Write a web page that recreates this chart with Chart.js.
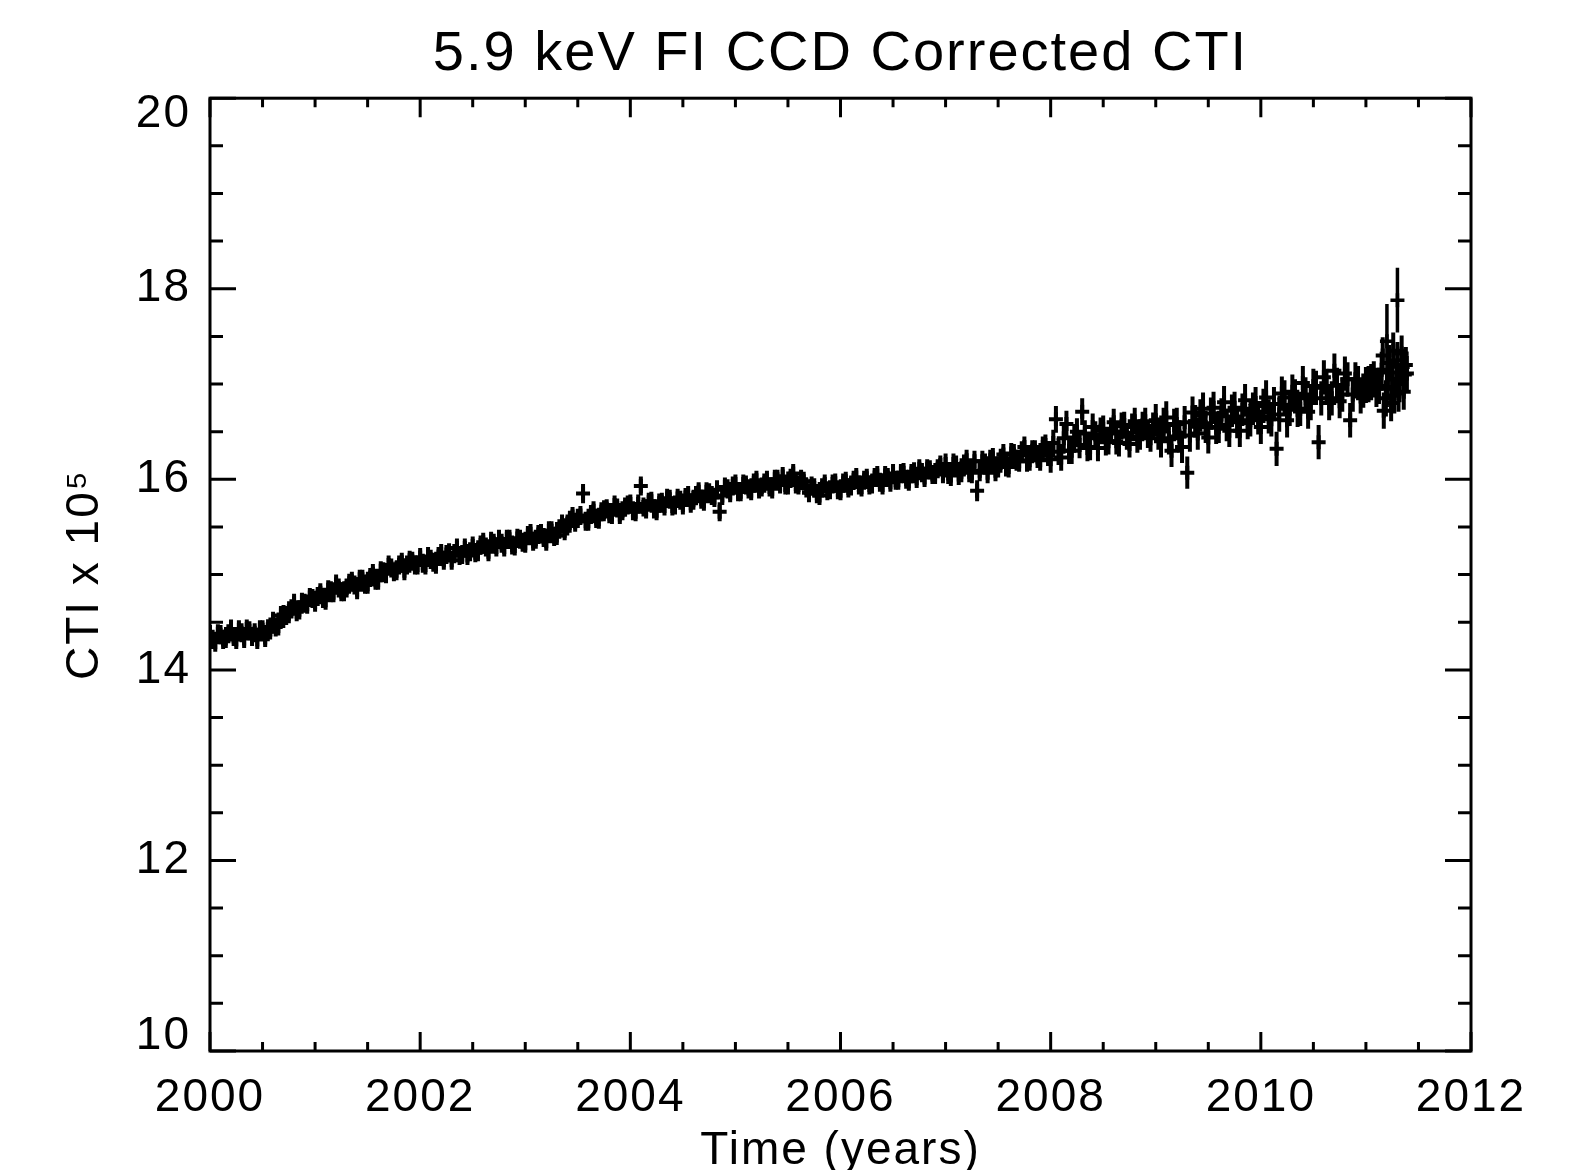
<!DOCTYPE html>
<html>
<head>
<meta charset="utf-8">
<title>5.9 keV FI CCD Corrected CTI</title>
<script src="https://cdn.jsdelivr.net/npm/chart.js@4.4.1/dist/chart.umd.min.js"></script>
<style>
  html, body { margin: 0; padding: 0; background: #fff; }
  #wrap { width: 1574px; height: 1170px; position: relative; }
</style>
</head>
<body>
<div id="wrap"><canvas id="ctiChart"></canvas></div>
<script>
// the measurements are dense, so they are kept in two interleaved runs.
const timesA = [
  2000.00,2000.05,2000.10,2000.15,2000.20,2000.25,2000.30,2000.35,2000.40,2000.45,2000.50,2000.55,2000.60,2000.65,2000.70,2000.75,2000.80,2000.85,2000.90,2000.95,
  2001.00,2001.05,2001.10,2001.15,2001.20,2001.25,2001.30,2001.35,2001.40,2001.45,2001.50,2001.55,2001.60,2001.65,2001.70,2001.75,2001.80,2001.85,2001.90,2001.95,
  2002.00,2002.05,2002.10,2002.15,2002.20,2002.25,2002.30,2002.35,2002.40,2002.45,2002.50,2002.55,2002.60,2002.65,2002.70,2002.75,2002.80,2002.85,2002.90,2002.95,
  2003.00,2003.05,2003.10,2003.15,2003.20,2003.25,2003.30,2003.35,2003.40,2003.45,2003.50,2003.55,2003.60,2003.65,2003.70,2003.75,2003.80,2003.85,2003.90,2003.95,
  2004.00,2004.05,2004.10,2004.15,2004.20,2004.25,2004.30,2004.35,2004.40,2004.45,2004.50,2004.55,2004.60,2004.65,2004.70,2004.75,2004.80,2004.85,2004.90,2004.95,
  2005.00,2005.05,2005.10,2005.15,2005.20,2005.25,2005.30,2005.35,2005.40,2005.45,2005.50,2005.55,2005.60,2005.65,2005.70,2005.75,2005.80,2005.85,2005.90,2005.95,
  2006.00,2006.05,2006.10,2006.15,2006.20,2006.25,2006.30,2006.35,2006.40,2006.45,2006.50,2006.55,2006.60,2006.65,2006.70,2006.75,2006.80,2006.85,2006.90,2006.95,
  2007.00,2007.05,2007.10,2007.15,2007.20,2007.25,2007.30,2007.35,2007.40,2007.45,2007.50,2007.55,2007.60,2007.65,2007.70,2007.75,2007.80,2007.85,2007.90,2007.95,
  2008.00,2008.05,2008.10,2008.15,2008.20,2008.25,2008.30,2008.35,2008.40,2008.45,2008.50,2008.55,2008.60,2008.65,2008.70,2008.75,2008.80,2008.85,2008.90,2008.95,
  2009.00,2009.05,2009.10,2009.15,2009.20,2009.25,2009.30,2009.35,2009.40,2009.45,2009.50,2009.55,2009.60,2009.65,2009.70,2009.75,2009.80,2009.85,2009.90,2009.95,
  2010.00,2010.05,2010.10,2010.15,2010.20,2010.25,2010.30,2010.35,2010.40,2010.45,2010.50,2010.55,2010.60,2010.65,2010.70,2010.75,2010.80,2010.85,2010.90,2010.95,
  2011.00,2011.05,2011.10,2011.15,2011.17,2011.20,2011.22,2011.25,2011.27,2011.30,2011.32,2011.35,2011.37,2011.39
];
const ctiA = [
  14.37,14.29,14.37,14.33,14.43,14.32,14.39,14.43,14.35,14.32,14.42,14.40,14.51,14.46,14.58,14.59,14.70,14.63,14.70,14.76,
  14.71,14.81,14.73,14.83,14.90,14.82,14.86,14.93,14.84,14.95,14.90,15.01,14.94,15.03,15.10,15.03,15.10,15.04,15.15,15.10,
  15.18,15.10,15.16,15.11,15.22,15.21,15.15,15.28,15.21,15.20,15.30,15.24,15.34,15.24,15.33,15.37,15.29,15.37,15.30,15.37,
  15.33,15.43,15.37,15.43,15.35,15.46,15.41,15.53,15.51,15.61,15.59,15.85,15.56,15.67,15.58,15.68,15.64,15.73,15.63,15.71,
  15.74,15.66,15.93,15.69,15.77,15.67,15.76,15.80,15.72,15.80,15.73,15.83,15.78,15.87,15.77,15.86,15.81,15.66,15.92,15.86,
  15.95,15.87,15.94,15.88,15.99,15.92,15.99,15.90,16.00,16.03,15.94,16.06,15.94,15.98,15.86,15.91,15.83,15.95,15.89,15.96,
  15.88,15.98,15.93,16.02,15.92,16.01,15.95,16.04,15.94,16.02,16.06,15.99,16.07,15.98,16.08,16.11,16.02,16.10,16.05,16.15,
  16.16,16.04,16.14,16.08,16.20,16.07,15.88,16.19,16.07,16.22,16.13,16.26,16.13,16.26,16.19,16.34,16.20,16.30,16.20,16.36,
  16.21,16.63,16.23,16.58,16.30,16.50,16.71,16.33,16.55,16.33,16.53,16.40,16.60,16.38,16.57,16.37,16.61,16.45,16.61,16.43,
  16.62,16.40,16.65,16.30,16.58,16.34,16.07,16.70,16.48,16.74,16.44,16.75,16.55,16.81,16.51,16.75,16.51,16.83,16.62,16.80,
  16.55,16.86,16.63,16.32,16.90,16.62,16.92,16.73,17.01,16.71,16.98,16.39,17.07,16.80,17.14,16.82,17.11,16.62,17.05,16.87,
  16.99,17.02,16.95,17.15,16.72,16.95,17.22,17.05,16.88,17.25,17.00,17.18,17.10,17.11
];

const timesB = [
  2000.025,2000.075,2000.125,2000.175,2000.225,2000.275,2000.325,2000.375,2000.425,2000.475,2000.525,2000.575,2000.625,2000.675,2000.725,2000.775,2000.825,2000.875,2000.925,2000.975,
  2001.025,2001.075,2001.125,2001.175,2001.225,2001.275,2001.325,2001.375,2001.425,2001.475,2001.525,2001.575,2001.625,2001.675,2001.725,2001.775,2001.825,2001.875,2001.925,2001.975,
  2002.025,2002.075,2002.125,2002.175,2002.225,2002.275,2002.325,2002.375,2002.425,2002.475,2002.525,2002.575,2002.625,2002.675,2002.725,2002.775,2002.825,2002.875,2002.925,2002.975,
  2003.025,2003.075,2003.125,2003.175,2003.225,2003.275,2003.325,2003.375,2003.425,2003.475,2003.525,2003.575,2003.625,2003.675,2003.725,2003.775,2003.825,2003.875,2003.925,2003.975,
  2004.025,2004.075,2004.125,2004.175,2004.225,2004.275,2004.325,2004.375,2004.425,2004.475,2004.525,2004.575,2004.625,2004.675,2004.725,2004.775,2004.825,2004.875,2004.925,2004.975,
  2005.025,2005.075,2005.125,2005.175,2005.225,2005.275,2005.325,2005.375,2005.425,2005.475,2005.525,2005.575,2005.625,2005.675,2005.725,2005.775,2005.825,2005.875,2005.925,2005.975,
  2006.025,2006.075,2006.125,2006.175,2006.225,2006.275,2006.325,2006.375,2006.425,2006.475,2006.525,2006.575,2006.625,2006.675,2006.725,2006.775,2006.825,2006.875,2006.925,2006.975,
  2007.025,2007.075,2007.125,2007.175,2007.225,2007.275,2007.325,2007.375,2007.425,2007.475,2007.525,2007.575,2007.625,2007.675,2007.725,2007.775,2007.825,2007.875,2007.925,2007.975,
  2008.025,2008.075,2008.125,2008.175,2008.225,2008.275,2008.325,2008.375,2008.425,2008.475,2008.525,2008.575,2008.625,2008.675,2008.725,2008.775,2008.825,2008.875,2008.925,2008.975,
  2009.025,2009.075,2009.125,2009.175,2009.225,2009.275,2009.325,2009.375,2009.425,2009.475,2009.525,2009.575,2009.625,2009.675,2009.725,2009.775,2009.825,2009.875,2009.925,2009.975,
  2010.025,2010.075,2010.125,2010.175,2010.225,2010.275,2010.325,2010.375,2010.425,2010.475,2010.525,2010.575,2010.625,2010.675,2010.725,2010.775,2010.825,2010.875,2010.925,2010.975,
  2011.025,2011.075,2011.125,2011.16,2011.19,2011.21,2011.24,2011.26,2011.29,2011.31,2011.34,2011.36,2011.38
];
const ctiB = [
  14.32,14.38,14.32,14.38,14.35,14.42,14.33,14.41,14.39,14.42,14.34,14.45,14.45,14.57,14.57,14.64,14.61,14.71,14.69,14.75,
  14.77,14.75,14.84,14.81,14.86,14.82,14.91,14.89,14.95,14.90,14.97,14.94,15.04,15.01,15.07,15.04,15.13,15.10,15.14,15.10,
  15.12,15.19,15.13,15.19,15.15,15.23,15.22,15.20,15.28,15.24,15.23,15.31,15.29,15.35,15.29,15.33,15.37,15.31,15.38,15.34,
  15.41,15.35,15.42,15.39,15.46,15.40,15.48,15.46,15.57,15.55,15.62,15.56,15.63,15.59,15.66,15.69,15.63,15.70,15.67,15.73,
  15.67,15.74,15.71,15.76,15.69,15.75,15.72,15.79,15.73,15.78,15.81,15.75,15.83,15.79,15.87,15.83,15.89,15.83,15.90,15.93,
  15.87,15.95,15.90,15.96,15.90,15.96,15.92,16.00,15.95,15.94,16.01,15.95,16.00,15.91,15.93,15.85,15.91,15.88,15.95,15.89,
  15.96,15.91,15.99,15.94,15.99,15.94,16.02,15.97,16.04,15.97,15.99,16.06,16.00,16.06,16.01,16.07,16.11,16.05,16.11,16.06,
  16.06,16.16,16.05,16.15,16.08,16.19,16.09,16.16,16.20,16.09,16.21,16.14,16.27,16.20,16.29,16.19,16.30,16.23,16.34,16.25,
  16.38,16.29,16.43,16.30,16.44,16.36,16.48,16.34,16.47,16.51,16.39,16.51,16.40,16.56,16.45,16.55,16.42,16.57,16.47,16.56,
  16.48,16.58,16.43,16.57,16.45,16.60,16.46,16.61,16.67,16.55,16.69,16.54,16.68,16.57,16.72,16.60,16.73,16.59,16.74,16.64,
  16.77,16.66,16.79,16.68,16.86,16.74,16.87,16.74,16.89,16.80,16.96,16.85,16.98,16.85,16.99,16.89,17.05,16.89,17.01,16.93,
  17.00,17.05,16.98,17.30,16.85,17.12,16.80,17.35,17.05,16.90,17.32,16.92,17.20
];

// typical 1-sigma error per year (2000 .. 2011)
const errByYear = [0.10,0.10,0.10,0.10,0.10,0.10,0.10,0.11,0.14,0.17,0.18,0.19];

// the two high points at the end with long error bars
const spikeYears = [2011.20, 2011.30];
const spikeCti = [17.45, 17.88];
const spikeErr = [0.39, 0.34];

const xTickLabels = [2000, 2002, 2004, 2006, 2008, 2010, 2012];
const yTickLabels = [10, 12, 14, 16, 18, 20];

const FONT = "'Liberation Sans', Arial, Helvetica, sans-serif";

const allTimes = timesA.concat(timesB);
const allCti = ctiA.concat(ctiB);
const allErr = allTimes.map(t => errByYear[Math.floor(t) - 2000]);

// IDL-style frame: box, inward ticks on all four sides, error bars
const idlFrame = {
  id: 'idlFrame',
  beforeDraw(chart) {
    // the IDL font is a bit wider than Helvetica
    chart.ctx.letterSpacing = '2px';
    // end labels of the y axis sit inside the box in the original
    const ys = chart.scales.y;
    ys.getLabelItems().forEach(it => {
      if (it.label === '10') it.options.translation[1] = ys.getPixelForValue(10) - 15;
      if (it.label === '20') it.options.translation[1] = ys.getPixelForValue(20) + 16;
    });
  },
  afterDatasetsDraw(chart) {
    const ctx = chart.ctx;
    const ys = chart.scales.y;
    const a = chart.chartArea;
    ctx.save();
    ctx.beginPath();
    ctx.rect(a.left, a.top, a.right - a.left, a.bottom - a.top);
    ctx.clip();
    ctx.strokeStyle = '#000';
    chart.data.datasets.forEach((ds, i) => {
      const meta = chart.getDatasetMeta(i);
      ctx.lineWidth = ds.pointBorderWidth;
      meta.data.forEach((pt, j) => {
        const v = ds.data[j].y;
        const e = ds.errors[j];
        ctx.beginPath();
        ctx.moveTo(pt.x, ys.getPixelForValue(v + e));
        ctx.lineTo(pt.x, ys.getPixelForValue(v - e));
        ctx.stroke();
      });
    });
    ctx.restore();
  },
  afterDraw(chart) {
    const ctx = chart.ctx;
    const xs = chart.scales.x, ys = chart.scales.y;
    const a = chart.chartArea;
    ctx.save();
    ctx.strokeStyle = '#000';
    ctx.lineWidth = 3;
    ctx.strokeRect(a.left, a.top, a.right - a.left, a.bottom - a.top);
    ctx.beginPath();
    for (let v = xs.min; v <= xs.max + 1e-9; v += 0.5) {
      const px = xs.getPixelForValue(v);
      const len = (Math.round(v * 2) % 4 === 0) ? 19 : 9;
      ctx.moveTo(px, a.bottom); ctx.lineTo(px, a.bottom - len);
      ctx.moveTo(px, a.top); ctx.lineTo(px, a.top + len);
    }
    for (let v = ys.min; v <= ys.max + 1e-9; v += 0.5) {
      const py = ys.getPixelForValue(v);
      const len = (Math.round(v * 2) % 4 === 0) ? 26 : 13;
      ctx.moveTo(a.left, py); ctx.lineTo(a.left + len, py);
      ctx.moveTo(a.right, py); ctx.lineTo(a.right - len, py);
    }
    ctx.stroke();
    ctx.restore();
  }
};

Chart.defaults.color = '#000';
Chart.defaults.font.family = FONT;

new Chart(document.getElementById('ctiChart'), {
  type: 'scatter',
  data: {
    datasets: [
      {
        label: 'CTI',
        data: allTimes.map((t, i) => ({ x: t, y: allCti[i] })),
        errors: allErr,
        pointStyle: 'cross',
        pointRadius: 7,
        pointBorderWidth: 4,
        borderColor: '#000',
        backgroundColor: '#000'
      },
      {
        label: 'CTI high',
        data: spikeYears.map((t, i) => ({ x: t, y: spikeCti[i] })),
        errors: spikeErr,
        pointStyle: 'cross',
        pointRadius: 7,
        pointBorderWidth: 3.5,
        borderColor: '#000',
        backgroundColor: '#000'
      }
    ]
  },
  options: {
    responsive: true,
    maintainAspectRatio: false,
    animation: false,
    events: [],
    layout: { padding: { left: 0, right: 103, top: 0, bottom: 0 } },
    plugins: {
      legend: { display: false },
      tooltip: { enabled: false },
      title: {
        display: true,
        fullSize: false,
        text: '5.9 keV FI CCD Corrected CTI',
        color: '#000',
        font: { size: 56, weight: 'normal', family: FONT, lineHeight: 1.2 },
        padding: { top: 21, bottom: 10 }
      }
    },
    scales: {
      x: {
        type: 'linear',
        min: 2000,
        max: 2012,
        afterBuildTicks: s => { s.ticks = xTickLabels.map(v => ({ value: v })); },
        afterFit: s => { s.height = 119; },
        grid: { display: false, drawTicks: false },
        border: { display: false },
        ticks: {
          autoSkip: false,
          maxRotation: 0,
          padding: 20,
          color: '#000',
          font: { size: 46, family: FONT },
          callback: v => String(v)
        },
        title: {
          display: true,
          text: 'Time (years)',
          color: '#000',
          font: { size: 46, family: FONT, lineHeight: 0.8 },
          padding: { top: 0, bottom: 0 }
        }
      },
      y: {
        type: 'linear',
        min: 10,
        max: 20,
        afterBuildTicks: s => { s.ticks = yTickLabels.map(v => ({ value: v })); },
        afterFit: s => { s.width = 210; },
        grid: { display: false, drawTicks: false },
        border: { display: false },
        ticks: {
          padding: 19,
          color: '#000',
          font: { size: 46, family: FONT },
          callback: v => String(v)
        },
        title: {
          display: true,
          text: 'CTI x 10\u2075',
          color: '#000',
          font: { size: 46, family: FONT, lineHeight: 1.2 },
          padding: { top: 58, bottom: 0 }
        }
      }
    }
  },
  plugins: [idlFrame]
});
</script>
</body>
</html>
